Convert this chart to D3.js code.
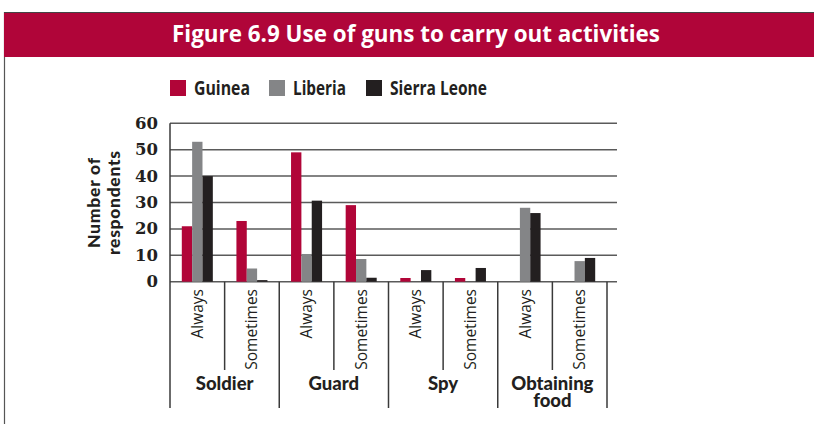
<!DOCTYPE html>
<html>
<head>
<meta charset="utf-8">
<script src="https://cdn.jsdelivr.net/npm/d3@7"></script>
<style>
  body { margin: 0; background: #fff; }
  svg { display: block; }
</style>
</head>
<body>
<script>
(function() {

    const width = 814;
    const height = 424;

    // chart data
    const groups = ["Soldier", "Guard", "Spy", "Obtaining food"];
    const frequencies = ["Always", "Sometimes"];
    const seriesNames = ["Guinea", "Liberia", "Sierra Leone"];
    const guinea = [21, 23, 49, 29, 1.4, 1.4, 0, 0];
    const liberia = [53, 5, 10.5, 8.6, 0, 0, 28, 7.8];
    const sierraLeone = [40, 0.6, 30.7, 1.5, 4.4, 5.2, 26, 9];
    const yTicks = [0, 10, 20, 30, 40, 50, 60];

    const colors = ["#b10538", "#848587", "#231f20"];
    const crimson = "#b00539";
    const narrow = "'Liberation Sans Narrow', 'Open Sans', sans-serif";
    const heavy = "'Lato', 'Open Sans', sans-serif";

    // one entry per sub-category (group x frequency)
    let cells = [];
    groups.forEach((g) => {
        frequencies.forEach((f) => {
            cells.push({ id: g + "|" + f, group: g, freq: f });
        });
    });
    const allSeries = [guinea, liberia, sierraLeone];

    let svg = d3.select("body")
        .append("svg")
        .attr("width", width)
        .attr("height", height);

    // frame + title bar
    svg.append("line")
        .attr("x1", 4.5).attr("x2", 4.5)
        .attr("y1", 12).attr("y2", height)
        .style("stroke", "#555")
        .style("stroke-width", 1.2);

    svg.append("rect")
        .attr("x", 4)
        .attr("y", 12)
        .attr("width", width - 4)
        .attr("height", 45)
        .style("fill", crimson);

    svg.append("line")
        .attr("x1", 4).attr("x2", width)
        .attr("y1", 12.5).attr("y2", 12.5)
        .style("stroke", "#444")
        .style("stroke-width", 1);

    svg.append("text")
        .attr("x", 172)
        .attr("y", 42)
        .attr("textLength", 488)
        .attr("lengthAdjust", "spacingAndGlyphs")
        .style("font-family", narrow)
        .style("font-weight", "bold")
        .style("font-size", "24px")
        .style("fill", "#fff")
        .text("Figure 6.9 Use of guns to carry out activities");

    // scales
    const plotLeft = 170, plotRight = 607, plotTop = 123.3, plotBottom = 281.7;

    let x = d3.scaleBand()
        .domain(cells.map(d => d.id))
        .range([plotLeft, plotRight])
        .paddingInner(0)
        .paddingOuter(0);

    let xInner = d3.scaleBand()
        .domain(seriesNames)
        .range([11.8, x.bandwidth() - 11.8]);

    let y = d3.scaleLinear()
        .domain([0, 60])
        .range([plotBottom, plotTop]);

    // gridlines
    svg.append("g")
        .selectAll("line")
        .data(yTicks)
        .enter()
        .append("line")
        .attr("x1", plotLeft)
        .attr("x2", 617)
        .attr("y1", d => y(d))
        .attr("y2", d => y(d))
        .style("stroke", "#5a5a5a")
        .style("stroke-width", 1.5);

    // y axis labels
    let yAxis = d3.axisLeft(y)
        .tickValues(yTicks)
        .tickSize(0)
        .tickPadding(12);

    let yg = svg.append("g")
        .attr("transform", "translate(" + plotLeft + ",0)")
        .call(yAxis);
    yg.select(".domain").remove();
    yg.selectAll("text")
        .attr("dy", "0.3em")
        .style("font-family", "'DejaVu Serif', serif")
        .style("font-weight", "bold")
        .style("font-size", "16.5px")
        .style("fill", "#231f20");

    // y axis title
    let yt = svg.append("text")
        .attr("transform", "translate(0,203) rotate(-90)")
        .attr("text-anchor", "middle")
        .style("font-family", heavy)
        .style("font-weight", "900")
        .style("font-size", "17.5px")
        .style("fill", "#231f20");
    yt.append("tspan").attr("x", 0).attr("y", 100).attr("textLength", 90).text("Number of");
    yt.append("tspan").attr("x", 0).attr("y", 120).attr("textLength", 104).text("respondents");

    // left axis line
    svg.append("line")
        .attr("x1", plotLeft).attr("x2", plotLeft)
        .attr("y1", plotTop).attr("y2", 408)
        .style("stroke", "#3a3a3a")
        .style("stroke-width", 1.5);

    // bars
    allSeries.forEach((vals, si) => {
        svg.append("g")
            .selectAll("rect")
            .data(vals)
            .enter()
            .append("rect")
            .attr("x", (d, i) => x(cells[i].id) + xInner(seriesNames[si]))
            .attr("width", xInner.bandwidth())
            .attr("y", d => y(d))
            .attr("height", d => y(0) - y(d))
            .style("fill", colors[si]);
    });

    // dividers between sub-categories
    svg.append("g")
        .selectAll("line")
        .data(cells)
        .enter()
        .append("line")
        .attr("x1", d => x(d.id) + x.bandwidth())
        .attr("x2", d => x(d.id) + x.bandwidth())
        .attr("y1", plotBottom)
        .attr("y2", d => d.freq === "Always" ? 370 : 408)
        .style("stroke", "#3a3a3a")
        .style("stroke-width", 1.5);

    // frequency labels
    svg.append("g")
        .selectAll("text")
        .data(cells)
        .enter()
        .append("text")
        .attr("transform", d => "translate(" + (x(d.id) + x.bandwidth() / 2 + 5.5) + ",289) rotate(-90)")
        .attr("text-anchor", "end")
        .style("font-family", "'Open Sans', sans-serif")
        .style("font-size", "15.5px")
        .style("fill", "#231f20")
        .text(d => d.freq);

    // group labels
    let gl = svg.append("g")
        .selectAll("text")
        .data(groups)
        .enter()
        .append("text")
        .attr("text-anchor", "middle")
        .style("font-family", heavy)
        .style("font-weight", "900")
        .style("font-size", "18.5px")
        .style("fill", "#231f20");
    gl.each(function(g) {
        let cx = x(g + "|Always") + x.bandwidth();
        let words = g === "Obtaining food" ? ["Obtaining", "food"] : [g];
        words.forEach((w, i) => {
            d3.select(this).append("tspan")
                .attr("x", cx)
                .attr("y", 390 + i * 17)
                .text(w);
        });
    });

    // legend
    const legendX = [170, 269, 366];
    const legendLen = [56, 53, 97];
    let legend = svg.append("g")
        .selectAll("g")
        .data(seriesNames)
        .enter()
        .append("g")
        .attr("transform", (d, i) => "translate(" + legendX[i] + ",80)");

    legend.append("rect")
        .attr("width", 16)
        .attr("height", 16)
        .style("fill", (d, i) => colors[i]);

    legend.append("text")
        .attr("x", 24)
        .attr("y", 15)
        .attr("textLength", (d, i) => legendLen[i])
        .attr("lengthAdjust", "spacingAndGlyphs")
        .style("font-family", narrow)
        .style("font-weight", "bold")
        .style("font-size", "19px")
        .style("fill", "#231f20")
        .text(d => d);

})();
</script>
</body>
</html>
